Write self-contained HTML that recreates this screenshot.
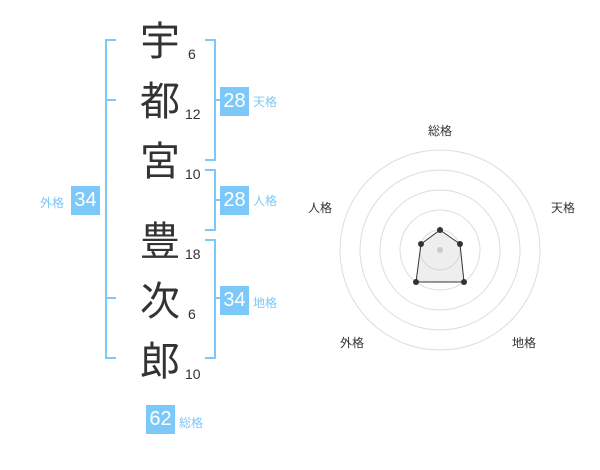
<!DOCTYPE html>
<html><head><meta charset="utf-8"><style>
body{margin:0;width:600px;height:470px;background:#fff;position:relative;font-family:"Liberation Sans","Noto Sans CJK JP",sans-serif;overflow:hidden}
.k{position:absolute;left:138px;font-size:40px;color:#333;line-height:44px;width:44px;text-align:center}
.n{position:absolute;font-size:14px;color:#333;line-height:16px}
.b{position:absolute;background:#7cc8f8;color:#fff;font-size:20px;width:29px;height:29px;line-height:29px;text-align:center}
.l{position:absolute;font-size:12px;color:#7cc8f8;line-height:14px}
.r{position:absolute;font-size:12px;color:#333;line-height:14px}
</style></head><body>
<svg width="600" height="470" style="position:absolute;left:0;top:0">
<g stroke="#7cc8f8" stroke-width="2" fill="none">
<path d="M116 40H106V358H116M106 100H116M106 298H116"/>
<path d="M205 40H215V160H205M215 100H221"/>
<path d="M205 170H215V230H205M215 200H221"/>
<path d="M205 240H215V358H205M215 298H221"/>
</g>
<g fill="none" stroke="#ddd" stroke-width="1">
<circle cx="440" cy="250" r="20"/><circle cx="440" cy="250" r="40"/><circle cx="440" cy="250" r="60"/><circle cx="440" cy="250" r="80"/><circle cx="440" cy="250" r="100"/>
</g>
<circle cx="440" cy="250" r="3" fill="#ccc"/>
<polygon points="440,230 460,244 464,282 416,282 421,244" fill="rgba(200,200,200,0.3)" stroke="#333" stroke-width="1"/>
<g fill="#333"><circle cx="440" cy="230" r="3"/><circle cx="460" cy="244" r="3"/><circle cx="464" cy="282" r="3"/><circle cx="416" cy="282" r="3"/><circle cx="421" cy="244" r="3"/></g>
</svg>
<div class="k" style="top:20px">宇</div><div class="n" style="left:188px;top:46px">6</div>
<div class="k" style="top:80px">都</div><div class="n" style="left:185px;top:106px">12</div>
<div class="k" style="top:140px">宮</div><div class="n" style="left:185px;top:166px">10</div>
<div class="k" style="top:220px">豊</div><div class="n" style="left:185px;top:246px">18</div>
<div class="k" style="top:280px">次</div><div class="n" style="left:188px;top:306px">6</div>
<div class="k" style="top:340px">郎</div><div class="n" style="left:185px;top:366px">10</div>
<div class="b" style="left:220px;top:87px">28</div><div class="l" style="left:253px;top:95px">天格</div>
<div class="b" style="left:220px;top:186px">28</div><div class="l" style="left:253px;top:194px">人格</div>
<div class="b" style="left:220px;top:286px">34</div><div class="l" style="left:253px;top:296px">地格</div>
<div class="b" style="left:71px;top:186px">34</div><div class="l" style="left:40px;top:196px">外格</div>
<div class="b" style="left:146px;top:405px">62</div><div class="l" style="left:179px;top:416px">総格</div>
<div class="r" style="left:428px;top:124px">総格</div>
<div class="r" style="left:551px;top:201px">天格</div>
<div class="r" style="left:308px;top:201px">人格</div>
<div class="r" style="left:340px;top:336px">外格</div>
<div class="r" style="left:512px;top:336px">地格</div>
</body></html>
